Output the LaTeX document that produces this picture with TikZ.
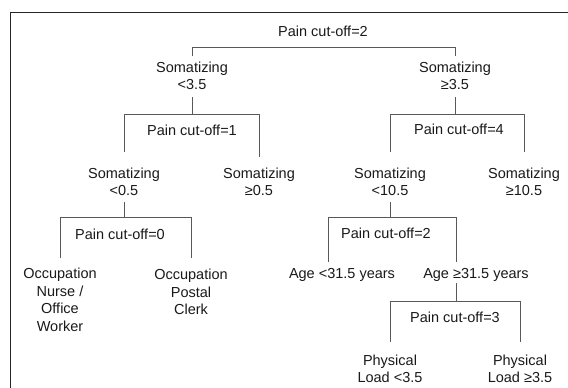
\documentclass[tikz,border=0pt]{standalone}
\usepackage{fontspec}
\setmainfont{Liberation Sans}
\usetikzlibrary{calc}

\begin{document}
\begin{tikzpicture}[x=1pt,y=-1pt,
  lbl/.style={align=center,inner sep=0pt,text=black!90,font=\fontsize{14.5}{17.5}\selectfont},
  tree/.style={draw=black!65,line width=0.8pt}]
\useasboundingbox (0,0) rectangle (568,388);
\begin{scope}
\clip (0,0) rectangle (568,388);
\draw[black!85,line width=1.1pt] (10.5,12.5) rectangle (600,420);
\end{scope}

% splits
\node[lbl] (root) at (323,31) {Pain cut-off=2};
\node[lbl] (pc1) at (192,130) {Pain cut-off=1};
\node[lbl] (pc4) at (459,129) {Pain cut-off=4};
\node[lbl] (pc0) at (120,234) {Pain cut-off=0};
\node[lbl] (pc2b) at (386,233) {Pain cut-off=2};
\node[lbl] (pc3) at (455,317) {Pain cut-off=3};

% groups
\node[lbl] (somL) at (192,76) {Somatizing\\<3.5};
\node[lbl] (somR) at (455,76) {Somatizing\\≥3.5};
\node[lbl] (somLL) at (124,182) {Somatizing\\<0.5};
\node[lbl] (somLR) at (259,182) {Somatizing\\≥0.5};
\node[lbl] (somRL) at (390,182) {Somatizing\\<10.5};
\node[lbl] (somRR) at (524,182) {Somatizing\\≥10.5};
\node[lbl] (occA) at (60,300) {Occupation\\Nurse /\\Office\\Worker};
\node[lbl] (occB) at (191,292) {Occupation\\Postal\\Clerk};
\node[lbl] (ageA) at (342,275) {Age <31.5 years};
\node[lbl] (ageB) at (476,275) {Age ≥31.5 years};
\node[lbl] (phyA) at (390,369) {Physical\\Load <3.5};
\node[lbl] (phyB) at (520,369) {Physical\\Load ≥3.5};

\coordinate (legA) at (328,262);
\coordinate (legB) at (456,262);

% brackets
\foreach \a/\b/\h/\ea/\eb in {somL/somR/47/56/56, somLL/somLR/114/152/157, somRL/somRR/114/152/152, occA/occB/217/258/258, phyA/phyB/301/342/342}
  \draw[tree] (\a |- 0,\ea) -- (\a |- 0,\h) -- (\b |- 0,\h) -- (\b |- 0,\eb);
\draw[tree] (legA) -- (legA |- 0,217) -- (legB |- 0,217) -- (legB);

% stems
\foreach \p/\t/\u in {somL/97/114, somR/97/114, somLL/202/217, somRL/202/217, legB/283/301}
  \draw[tree] (\p |- 0,\t) -- (\p |- 0,\u);
\end{tikzpicture}
\end{document}
